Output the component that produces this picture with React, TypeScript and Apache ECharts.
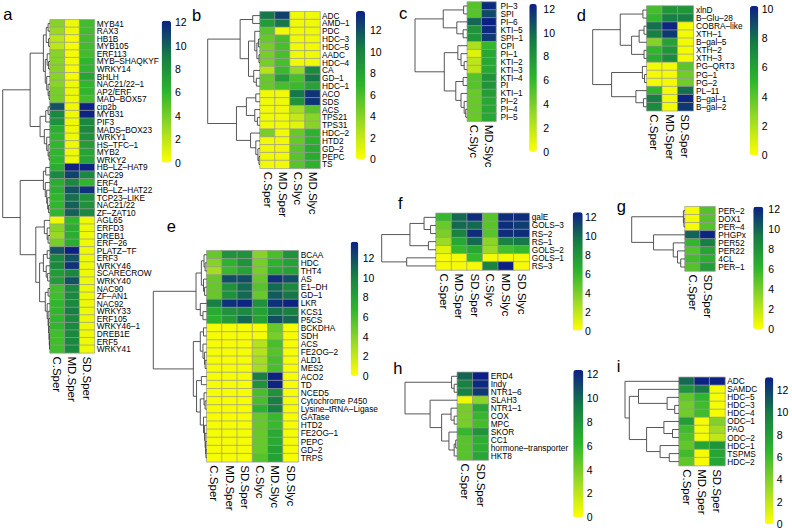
import React, { useEffect, useRef } from 'react';
import * as echarts from 'echarts';

const FONT = "'Liberation Sans', Arial, Helvetica, sans-serif";
const PALETTE = ['#ffff00', '#98d926', '#2db52d', '#167d44', '#0c1f87'];
const TICKS12 = [0, 2, 4, 6, 8, 10, 12];
const TICKS10 = [0, 2, 4, 6, 8, 10];

// ---------- panel a ----------
const aRows = ['MYB41', 'RAX3', 'HB1B', 'MYB105', 'ERF113', 'MYB–SHAQKYF', 'WRKY14', 'BHLH', 'NAC21/22–1', 'AP2/ERF', 'MAD–BOX57', 'cip2b', 'MYB31', 'PIF3', 'MADS–BOX23', 'WRKY1', 'HS–TFC–1', 'MYB2', 'WRKY2', 'HB–LZ–HAT9', 'NAC29', 'ERF4', 'HB–LZ–HAT22', 'TCP23–LIKE', 'NAC21/22', 'ZF–ZAT10', 'AGL65', 'ERFD3', 'DREB1', 'ERF–26', 'PLATZ–TF', 'ERF3', 'WRKY46', 'SCARECROW', 'WRKY40', 'NAC90', 'ZF–AN1', 'NAC92', 'WRKY33', 'ERF105', 'WRKY46–1', 'DREB1E', 'ERF5', 'WRKY41'];
const aCols = ['C.Sper', 'MD.Sper', 'SD.Sper'];
const aVals = [
  [3.5, 0.5, 5.5], [3, 0.5, 5.5], [2, 0.3, 5.5], [2, 0.3, 5.5], [3.5, 0.3, 5.5], [3.5, 0.3, 6], [3.5, 0.3, 6], [3.5, 0.3, 7], [3.5, 0.5, 6], [4, 0.5, 6], [4, 0.5, 5.5],
  [10.5, 0.5, 12], [8.5, 0.5, 12], [8, 0.5, 8.5], [6.5, 0.5, 8.5], [6, 0.5, 8], [6, 0.5, 7.5], [6, 0.5, 7], [6, 0.5, 7],
  [6.5, 12, 12], [8.5, 11, 8.5], [6.5, 8.5, 6], [6.5, 10.5, 11.5], [6, 9.5, 8], [6, 10, 8], [6, 10, 8.5],
  [0.5, 6, 0.5], [3.5, 6.5, 0.5], [3, 6.5, 0.5], [4, 6.5, 0.5], [10.5, 12.5, 0.5], [8.5, 10.5, 0.5], [8.5, 11.5, 0.5], [7.5, 8.5, 0.5], [7.5, 10.5, 0.5],
  [5.5, 8.5, 0.5], [5.5, 8.5, 0.5], [6, 8.5, 0.5], [6, 9, 0.5], [6, 8.5, 0.5], [6, 8.5, 0.5], [5.5, 8.5, 0.5], [5.5, 8.5, 0.5], [5.5, 8.5, 0.5],
];
const aTree: any = [100,
  [42,
    [14, [8, [4, 0, 1], [3, 2, 3]], [10, [6, 4, [3, 5, 6]], [7, 7, [4, 8, [2, 9, 10]]]]],
    [21, [9, [4, 11, 12], 13], [12, 14, [7, 15, [4, 16, [2, 17, 18]]]]]],
  [63,
    [14, [9, 19, 20], [10, 21, [7, 22, [5, 23, [3, 24, 25]]]]],
    [30, [12, 26, [6, 27, [4, 28, 29]]],
      [22, [14, [6, 30, 31], [8, 32, [5, 33, 34]]], [10, [4, 35, 36], [6, 37, [4, 38, [3, 39, [2, 40, [1.5, 41, [1, 42, 43]]]]]]]]]]];
const aMax = 12.13;

// ---------- panel b ----------
const bRows = ['ADC', 'AMD–1', 'PDC', 'HDC–3', 'HDC–5', 'AADC', 'HDC–4', 'CA', 'GD–1', 'HDC–1', 'ACO', 'SDS', 'ACS', 'TPS21', 'TPS31', 'HDC–2', 'HTD2', 'GD–2', 'PEPC', 'TS'];
const bCols = ['C.Sper', 'MD.Sper', 'C.Slyc', 'MD.Slyc'];
const bVals = [
  [10.5, 12.5, 0.5, 0.5], [8.5, 10.5, 0.5, 0.5], [5.5, 0.5, 0.5, 0.5], [5, 6, 0.5, 0.5], [4.5, 6, 0.5, 0.5], [4.5, 6, 0.5, 0.5], [4.5, 6, 0.5, 0.5],
  [2.5, 6.5, 3.5, 9.5], [5, 8.5, 6, 10.5], [5, 6, 6.5, 8], [0.5, 0.5, 10.5, 13], [0.5, 0.5, 9, 13], [0.5, 0.5, 3, 5.5], [0.5, 0.5, 2, 4], [0.5, 0.5, 1, 4],
  [4.5, 0.5, 5, 7], [0.5, 0.5, 5, 7], [0.5, 0.5, 5.5, 7.5], [0.5, 0.5, 5.5, 7.5], [0.5, 0.5, 5.5, 7],
];
const bTree: any = [100,
  [38, [14, 0, 1], [22, [10, 2, [6, [3, 3, 4], [2, 5, 6]]], [12, 7, [7, 8, 9]]]],
  [45, [26, [8, 10, 11], [10, 12, [5, 13, 14]]], [18, 15, [8, 16, [4, 17, [2, 18, 19]]]]]];
const bMax = 13.76;

// ---------- panel c ----------
const cRows = ['PI–3', 'SPI', 'PI–6', 'KTI–5', 'SPI–1', 'CPI', 'PI–1', 'KTI–2', 'KTI–3', 'KTI–4', 'PI', 'KTI–1', 'PI–2', 'PI–4', 'PI–5'];
const cCols = ['C.Slyc', 'MD.Slyc'];
const cVals = [
  [5, 12], [5, 11], [10, 12.5], [8, 12], [8, 11.5], [2.5, 6], [1, 7], [2, 7], [2, 7], [5, 8], [5, 8], [4.5, 7.5], [4.5, 7], [4.5, 7], [4.5, 7],
];
const cTree: any = [100,
  [46, [7, 0, 1], [20, 2, [8, 3, 4]]],
  [44, [18, 5, [12, 6, [6, 7, 8]]], [22, [8, 9, 10], [12, 11, [6, 12, [3, 13, 14]]]]]];
const cMax = 12.4;

// ---------- panel d ----------
const dRows = ['xlnD', 'B–Glu–28', 'COBRA–like', 'XTH–1', 'B–gal–5', 'XTH–2', 'XTH–3', 'PG–QRT3', 'PG–1', 'PG–2', 'PL–11', 'B–gal–1', 'B–gal–2'];
const dCols = ['C.Sper', 'MD.Sper', 'SD.Sper'];
const dVals = [
  [4.5, 6.5, 6.5], [5, 7.5, 7.5], [8, 10, 0.3], [7.5, 9.5, 0.3], [3, 6, 0.3], [5, 6.5, 0.3], [5.5, 7, 0.3],
  [0.3, 0.3, 4], [0.3, 0.3, 3.5], [0.3, 0.3, 3.5], [5, 0.3, 8], [7.5, 0.3, 10], [7, 0.3, 9.5],
];
const dTree: any = [100,
  [49, [7, 0, 1], [28, [14, [5, 2, 3], 4], [5, 5, 6]]],
  [65, [8, 7, [4, 8, 9]], [20, 10, [6, 11, 12]]]];
const dMax = 10.2;

// ---------- panel e ----------
const eRows = ['BCAA', 'HDC', 'THT4', 'AS', 'E1–DH', 'GD–1', 'LKR', 'KCS1', 'P5CS', 'BCKDHA', 'SDH', 'ACS', 'FE2OG–2', 'ALD1', 'MES2', 'ACO2', 'TD', 'NCED5', 'Cytochrome P450', 'Lysine–tRNA–Ligase', 'GATase', 'HTD2', 'FE2OG–1', 'PEPC', 'GD–2', 'TRPS'];
const eCols = ['C.Sper', 'MD.Sper', 'SD.Sper', 'C.Slyc', 'MD.Slyc', 'SD.Slyc'];
const eVals = [
  [5, 9, 9, 4, 6, 9], [4, 7, 9, 4.5, 7, 8], [3, 6.5, 8, 4.5, 7.5, 8], [5, 12, 12, 5, 13, 12], [5, 9, 11, 5.5, 11, 9.5], [5, 9, 11, 5, 11.5, 10.5],
  [10, 13, 13.5, 9, 13, 13.5], [7.5, 9, 9.5, 8, 10.5, 10], [7, 8.5, 11, 8, 12, 11],
  [0.3, 0.3, 0.3, 0.3, 5, 0.3], [0.3, 0.3, 0.3, 0.3, 4.5, 0.3], [0.3, 0.3, 0.3, 2.5, 6, 0.3], [0.3, 0.3, 0.3, 2.5, 5.5, 0.3], [0.3, 0.3, 0.3, 3, 6, 0.3], [0.3, 0.3, 0.3, 3, 6, 0.3],
  [0.3, 0.3, 0.3, 10, 13.5, 0.3], [0.3, 0.3, 0.3, 9, 13.5, 0.3], [0.3, 0.3, 0.3, 6, 9, 0.3], [0.3, 0.3, 0.3, 6, 10, 0.3], [0.3, 0.3, 0.3, 7, 10, 0.3],
  [0.3, 0.3, 0.3, 5, 6.5, 0.3], [0.3, 0.3, 0.3, 5, 6.5, 0.3], [0.3, 0.3, 0.3, 5, 7.5, 0.3], [0.3, 0.3, 0.3, 5, 7.5, 0.3], [0.3, 0.3, 0.3, 5, 8, 0.3], [0.3, 0.3, 0.3, 5.5, 8, 0.3],
];
const eTree: any = [100,
  [20, [10, [5, 0, [3, 1, 2]], [6, 3, [4, 4, 5]]], [12, 6, [7, 7, 8]]],
  [25, [12, [6, 9, 10], [7, 11, [4, 12, [3, 13, 14]]]],
    [19, [10, 15, 16], [12, [5, 17, [3, 18, 19]], [6, 20, [4, 21, [3, 22, [2, 23, [1.5, 24, 25]]]]]]]]];
const eMax = 13.7;

// ---------- panel f ----------
const fRows = ['galE', 'GOLS–3', 'RS–2', 'RS–1', 'GOLS–2', 'GOLS–1', 'RS–3'];
const fCols = ['C.Sper', 'MD.Sper', 'SD.Sper', 'C.Slyc', 'MD.Slyc', 'SD.Slyc'];
const fVals = [
  [6, 10, 12, 5, 12, 12], [4.5, 10, 10, 5, 12, 11.5], [4, 9, 12, 5, 12, 12], [3, 7, 10, 3.5, 9, 9.5],
  [1, 6, 7, 3, 5.5, 6], [0.3, 0.3, 6, 0.3, 0.3, 0.3], [0.3, 0.3, 0.3, 9, 12.5, 0.3],
];
const fTree: any = [100, [48, [22, 0, [10, 1, 2]], [14, 3, 4]], [54, 5, 6]];
const fMax = 12.5;

// ---------- panel g ----------
const gRows = ['PER–2', 'DOX1', 'PER–4', 'PHGPx', 'PER52', 'PER22', '4CL', 'PER–1'];
const gCols = ['C.Sper', 'SD.Sper'];
const gVals = [[0.3, 5], [0.3, 5], [0.3, 5], [10, 12], [6, 9], [5, 7], [5.5, 6.5], [5, 7.5]];
const gTree: any = [100, [3, 0, [2, 1, 2]], [59, 3, [22, 4, [14, 5, [8, 6, 7]]]]];
const gMax = 12.2;

// ---------- panel h ----------
const hRows = ['ERD4', 'Indy', 'NTR1–6', 'SLAH3', 'NTR1–1', 'COX', 'MPC', 'SKOR', 'CC1', 'hormone–transporter', 'HKT8'];
const hCols = ['C.Sper', 'SD.Sper'];
const hVals = [[10, 12.5], [9, 12], [9, 11.5], [0.5, 3.5], [4, 7], [4, 6], [4, 5.5], [6, 8], [5, 6.5], [5, 6.5], [5, 7]];
const hTree: any = [100, [11, 0, [6, 1, 2]], [52, 3, [30, [12, 4, [6, 5, 6]], [16, 7, [6, [3, 8, 9], 10]]]]];
const hMax = 12.34;

// ---------- panel i ----------
const iRows = ['ADC', 'SAMDC', 'HDC–5', 'HDC–3', 'HDC–4', 'ODC–1', 'PAO', 'ODC–2', 'HDC–1', 'TSPMS', 'HDC–2'];
const iCols = ['C.Sper', 'MD.Sper', 'SD.Sper'];
const iVals = [[10.5, 13, 13], [8.5, 10, 0.3], [5, 6.5, 0.3], [4.5, 6, 0.3], [4.5, 6, 0.3], [8, 0.3, 4], [6, 0.3, 3], [5.5, 0.3, 2], [5, 7.5, 8.5], [6, 0.3, 7.5], [5, 0.3, 7.5]];
const iTree: any = [100, 0, [92, [75, 1, [22, 2, [8, 3, 4]]], [60, [28, 5, [12, 6, 7]], [35, 8, [18, 9, 10]]]]];
const iMax = 13.13;

const PANELS: any[] = [
  { key: 'a', rows: aRows, cols: aCols, vals: aVals, tree: aTree, max: aMax, ticks: TICKS12,
    L: { hmLeft: 50, hmTop: 19.8, cellW: 14.8, cellH: 7.57, rootX: 2.7, rowMargin: 2.3, cbLeft: 161.7, cbW: 9.3, cbTop: 20.7, cbZero: 162.5, cbMargin: 4, letter: [3.3, 19.3] } },
  { key: 'b', rows: bRows, cols: bCols, vals: bVals, tree: bTree, max: bMax, ticks: TICKS12,
    L: { hmLeft: 260, hmTop: 11.7, cellW: 15, cellH: 7.83, rootX: 207.7, rowMargin: 2, cbLeft: 356, cbW: 9, cbTop: 11, cbZero: 159.3, cbMargin: 5, letter: [192, 20] } },
  { key: 'c', rows: cRows, cols: cCols, vals: cVals, tree: cTree, max: cMax, ticks: TICKS12,
    L: { hmLeft: 467.3, hmTop: 2, cellW: 14.35, cellH: 7.95, rootX: 415, rowMargin: 4.5, cbLeft: 529.3, cbW: 7.5, cbTop: 4, cbZero: 151.7, cbMargin: 6.5, letter: [399, 18.3] } },
  { key: 'd', rows: dRows, cols: dCols, vals: dVals, tree: dTree, max: dMax, ticks: TICKS10,
    L: { hmLeft: 646.7, hmTop: 6, cellW: 15.5, cellH: 8.06, rootX: 592.7, rowMargin: 2.8, cbLeft: 750, cbW: 8.3, cbTop: 6, cbZero: 155.3, cbMargin: 3.4, letter: [576.7, 20] } },
  { key: 'e', rows: eRows, cols: eCols, vals: eVals, tree: eTree, max: eMax, ticks: TICKS12,
    L: { hmLeft: 206.7, hmTop: 250.7, cellW: 15.27, cellH: 8.12, rootX: 153.3, rowMargin: 2.4, cbLeft: 350.7, cbW: 7.6, cbTop: 241.7, cbZero: 375.7, cbMargin: 4.4, letter: [166.7, 231.7] } },
  { key: 'f', rows: fRows, cols: fCols, vals: fVals, tree: fTree, max: fMax, ticks: TICKS12,
    L: { hmLeft: 436, hmTop: 213.3, cellW: 15.55, cellH: 8.1, rootX: 381.7, rowMargin: 2.4, cbLeft: 572.7, cbW: 10, cbTop: 212.3, cbZero: 330.5, cbMargin: 2.3, letter: [398, 208.3] } },
  { key: 'g', rows: gRows, cols: gCols, vals: gVals, tree: gTree, max: gMax, ticks: TICKS12,
    L: { hmLeft: 685, hmTop: 206.7, cellW: 15, cellH: 8.04, rootX: 631.7, rowMargin: 3.3, cbLeft: 753.3, cbW: 10, cbTop: 206.7, cbZero: 329, cbMargin: 5, letter: [616.7, 211.5] } },
  { key: 'h', rows: hRows, cols: hCols, vals: hVals, tree: hTree, max: hMax, ticks: TICKS12,
    L: { hmLeft: 457.3, hmTop: 372.3, cellW: 15.5, cellH: 7.97, rootX: 405, rowMargin: 2.4, cbLeft: 573.3, cbW: 10, cbTop: 370, cbZero: 517.3, cbMargin: 3.4, letter: [393.3, 373.3] } },
  { key: 'i', rows: iRows, cols: iCols, vals: iVals, tree: iTree, max: iMax, ticks: TICKS12,
    L: { hmLeft: 679, hmTop: 377.3, cellW: 15.33, cellH: 8.03, rootX: 625, rowMargin: 2.3, cbLeft: 765, cbW: 8.3, cbTop: 377.3, cbZero: 524, cbMargin: 3.4, letter: [616.7, 371.7] } },
];

function dendroSegments(tree: any) {
  const segs: number[][] = [];
  function walk(t: any): [number, number] {
    if (typeof t === 'number') return [0, t];
    const [h, l, r] = t;
    const A = walk(l);
    const B = walk(r);
    segs.push([A[0], A[1], h, B[1], B[0]]);
    return [h, (A[1] + B[1]) / 2];
  }
  walk(tree);
  return segs;
}

function buildOption() {
  const opt: any = {
    animation: false,
    backgroundColor: '#ffffff',
    textStyle: { fontFamily: FONT },
    grid: [], xAxis: [], yAxis: [], series: [], visualMap: [],
    graphic: [],
  };
  PANELS.forEach((p) => {
    const L = p.L;
    const n = p.rows.length;
    const m = p.cols.length;
    const gi = opt.grid.length;
    // heatmap
    opt.grid.push({ left: L.hmLeft, top: L.hmTop, width: m * L.cellW, height: n * L.cellH });
    opt.xAxis.push({
      type: 'category', gridIndex: gi, data: p.cols, position: 'bottom',
      axisLine: { show: false }, axisTick: { show: false }, splitLine: { show: false },
      axisLabel: { interval: 0, rotate: -90, margin: 3.5, fontSize: 11.5, lineHeight: 12, color: '#000', fontFamily: FONT },
    });
    opt.yAxis.push({
      type: 'category', gridIndex: gi, data: p.rows, inverse: true, position: 'right',
      axisLine: { show: false }, axisTick: { show: false }, splitLine: { show: false },
      axisLabel: { interval: 0, margin: L.rowMargin, fontSize: 8.3, lineHeight: L.cellH - 0.6, color: '#000', fontFamily: FONT },
    });
    const data: number[][] = [];
    p.vals.forEach((row: number[], r: number) => row.forEach((v: number, c: number) => data.push([c, r, v])));
    const hmIdx = opt.series.length;
    opt.series.push({
      type: 'heatmap', xAxisIndex: gi, yAxisIndex: gi, data,
      itemStyle: { borderColor: '#9a9a9a', borderWidth: 0.7 },
      emphasis: { disabled: true }, silent: true,
    });
    // dendrogram
    const gd = gi + 1;
    const rootH = p.tree[0];
    opt.grid.push({ left: L.rootX, top: L.hmTop, width: L.hmLeft - L.rootX, height: n * L.cellH });
    opt.xAxis.push({ type: 'value', gridIndex: gd, min: 0, max: rootH, inverse: true, show: false });
    opt.yAxis.push({ type: 'value', gridIndex: gd, min: -0.5, max: n - 0.5, inverse: true, show: false });
    opt.series.push({
      type: 'custom', xAxisIndex: gd, yAxisIndex: gd, data: dendroSegments(p.tree), silent: true,
      renderItem: (_params: any, api: any) => {
        const pts = [
          api.coord([api.value(0), api.value(1)]),
          api.coord([api.value(2), api.value(1)]),
          api.coord([api.value(2), api.value(3)]),
          api.coord([api.value(4), api.value(3)]),
        ];
        return { type: 'polyline', shape: { points: pts }, style: { stroke: '#444', lineWidth: 0.9, fill: null } };
      },
    });
    // colorbar labels axis
    const gc = gi + 2;
    opt.grid.push({ left: L.cbLeft, top: L.cbTop, width: L.cbW, height: L.cbZero - L.cbTop });
    opt.xAxis.push({ type: 'value', gridIndex: gc, min: 0, max: 1, show: false });
    opt.yAxis.push({
      type: 'value', gridIndex: gc, min: 0, max: p.max, interval: 2, position: 'right',
      axisLine: { show: false }, axisTick: { show: false }, splitLine: { show: false },
      axisLabel: {
        margin: L.cbMargin, fontSize: 10.5, lineHeight: 11, color: '#000', fontFamily: FONT,
        showMinLabel: true, showMaxLabel: true,
        formatter: (v: number) => (p.ticks.indexOf(v) >= 0 ? String(v) : ''),
      },
    });
    opt.visualMap.push({
      type: 'continuous', show: true, calculable: false, seriesIndex: hmIdx, dimension: 2,
      min: 0, max: p.max, orient: 'vertical', left: L.cbLeft, top: L.cbTop,
      itemWidth: L.cbW, itemHeight: L.cbZero - L.cbTop, padding: 0, text: null,
      inRange: { color: PALETTE }, hoverLink: false,
    });
    // panel letter
    opt.graphic.push({
      type: 'text', x: L.letter[0], y: L.letter[1] + 3.2, silent: true,
      style: { text: p.key, fontSize: 16.5, fill: '#000', fontFamily: FONT, verticalAlign: 'bottom', align: 'left' },
    });
  });
  return opt;
}

export default function App() {
  const ref = useRef<HTMLDivElement>(null);
  useEffect(() => {
    if (!ref.current) return;
    const chart = echarts.init(ref.current, undefined, { renderer: 'svg' });
    chart.setOption(buildOption());
    return () => chart.dispose();
  }, []);
  return (
    <div
      ref={ref}
      style={{ position: 'absolute', left: 0, top: 0, width: 792, height: 530, background: '#fff' }}
    />
  );
}
